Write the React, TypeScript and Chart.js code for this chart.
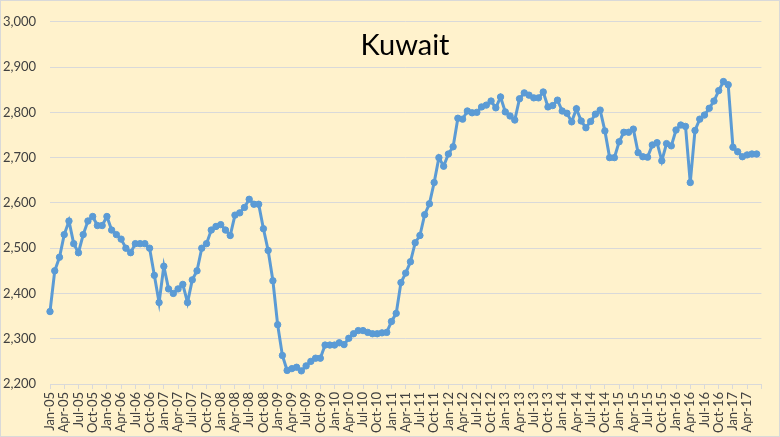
import { useEffect, useRef } from 'react';
import { Chart, registerables } from 'chart.js';

Chart.register(...registerables);

const MONTHS = ['Jan', 'Feb', 'Mar', 'Apr', 'May', 'Jun', 'Jul', 'Aug', 'Sep', 'Oct', 'Nov', 'Dec'];
const YEARS = ['05', '06', '07', '08', '09', '10', '11', '12', '13', '14', '15', '16', '17'];
const CATEGORIES = YEARS.flatMap((y) => MONTHS.map((m) => `${m}-${y}`)).slice(0, 151);
const LAST_LABELLED = 'Apr-17';

const KUWAIT_2005 = [2360, 2450, 2480, 2530, 2560, 2510, 2490, 2530, 2560, 2570, 2550, 2550];
const KUWAIT_2006 = [2570, 2540, 2530, 2520, 2500, 2490, 2510, 2510, 2510, 2500, 2440, 2380];
const KUWAIT_2007 = [2460, 2410, 2400, 2410, 2420, 2380, 2430, 2450, 2500, 2510, 2540, 2548];
const KUWAIT_2008 = [2552, 2540, 2528, 2573, 2578, 2590, 2608, 2597, 2597, 2543, 2495, 2428];
const KUWAIT_2009 = [2331, 2263, 2230, 2234, 2237, 2229, 2240, 2250, 2257, 2257, 2286, 2286];
const KUWAIT_2010 = [2286, 2291, 2287, 2301, 2311, 2318, 2318, 2314, 2311, 2311, 2313, 2314];
const KUWAIT_2011 = [2338, 2356, 2424, 2445, 2470, 2512, 2528, 2574, 2598, 2645, 2700, 2681];
const KUWAIT_2012 = [2708, 2724, 2787, 2785, 2803, 2799, 2800, 2812, 2816, 2825, 2810, 2834];
const KUWAIT_2013 = [2801, 2792, 2783, 2830, 2843, 2838, 2832, 2832, 2845, 2812, 2815, 2827];
const KUWAIT_2014 = [2803, 2798, 2779, 2808, 2781, 2766, 2780, 2796, 2805, 2759, 2700, 2700];
const KUWAIT_2015 = [2735, 2756, 2756, 2763, 2711, 2702, 2701, 2728, 2733, 2693, 2731, 2726];
const KUWAIT_2016 = [2761, 2772, 2769, 2645, 2760, 2785, 2794, 2809, 2825, 2848, 2868, 2861];
const KUWAIT_2017 = [2723, 2713, 2702, 2706, 2708, 2708];

const PRODUCTION = [
  ...KUWAIT_2005, ...KUWAIT_2006, ...KUWAIT_2007, ...KUWAIT_2008, ...KUWAIT_2009,
  ...KUWAIT_2010, ...KUWAIT_2011, ...KUWAIT_2012, ...KUWAIT_2013, ...KUWAIT_2014,
  ...KUWAIT_2015, ...KUWAIT_2016, ...KUWAIT_2017,
];

const Y_MIN = 2200;
const Y_MAX = 3000;
const Y_STEP = 100;
const TITLE = 'Kuwait';

const FONT = 'Lato, "Open Sans", sans-serif';

const backgroundPlugin = {
  id: 'bgBorder',
  beforeDraw(chart: any) {
    const { ctx, width, height } = chart;
    ctx.save();
    ctx.fillStyle = '#FFF2CC';
    ctx.fillRect(0, 0, width, height);
    ctx.strokeStyle = '#D9D9D9';
    ctx.lineWidth = 1;
    ctx.strokeRect(0.5, 0.5, width - 1, height - 1);
    ctx.restore();
  },
  afterDraw(chart: any) {
    const { ctx } = chart;
    ctx.save();
    ctx.fillStyle = '#000000';
    ctx.font = `29px ${FONT}`;
    ctx.textAlign = 'center';
    ctx.textBaseline = 'middle';
    ctx.fillText(TITLE, 405, 46);
    ctx.restore();
  },
};

const lastLabelIndex = CATEGORIES.indexOf(LAST_LABELLED);

export default function App() {
  const canvasRef = useRef<HTMLCanvasElement | null>(null);

  useEffect(() => {
    if (!canvasRef.current) return;
    const chart = new Chart(canvasRef.current, {
      type: 'line',
      data: {
        labels: CATEGORIES,
        datasets: [
          {
            data: PRODUCTION,
            borderColor: '#5B9BD5',
            backgroundColor: '#5B9BD5',
            borderWidth: 3,
            pointRadius: 3.2,
            pointBorderWidth: 1,
            pointBackgroundColor: '#5B9BD5',
            pointBorderColor: '#5B9BD5',
            tension: 0,
          },
        ],
      },
      options: {
        responsive: false,
        animation: false,
        devicePixelRatio: 1,
        layout: { padding: { top: 12, right: 15, bottom: 0, left: 0 } },
        plugins: {
          legend: { display: false },
          title: { display: false },
          tooltip: { enabled: false },
        },
        scales: {
          x: {
            type: 'category',
            offset: false,
            grid: {
              drawOnChartArea: false,
              drawTicks: true,
              tickLength: 5,
              color: (ctx: any) => (ctx.index % 3 === 0 ? '#D9D9D9' : 'rgba(0,0,0,0)'),
            },
            border: { display: true, color: '#D9D9D9' },
            ticks: {
              autoSkip: false,
              maxRotation: 90,
              minRotation: 90,
              padding: 3,
              color: '#404040',
              font: { family: FONT, size: 13 },
              callback: (_v: any, i: number) =>
                i % 3 === 0 && i <= lastLabelIndex ? CATEGORIES[i] : '',
            },
            afterFit: (scale: any) => {
              scale.height = 53;
            },
          },
          y: {
            min: Y_MIN,
            max: Y_MAX,
            grid: { color: '#D9D9D9', drawTicks: false },
            border: { display: false },
            ticks: {
              stepSize: Y_STEP,
              padding: 14,
              color: '#404040',
              font: { family: FONT, size: 13 },
              callback: (v: any) => Number(v).toLocaleString('en-US'),
            },
            afterFit: (scale: any) => {
              scale.width = 50;
            },
          },
        },
      },
      plugins: [backgroundPlugin],
    });
    return () => chart.destroy();
  }, []);

  return (
    <div style={{ position: 'absolute', left: 0, top: 0, width: 780, height: 437 }}>
      <canvas ref={canvasRef} width={780} height={437} />
    </div>
  );
}
